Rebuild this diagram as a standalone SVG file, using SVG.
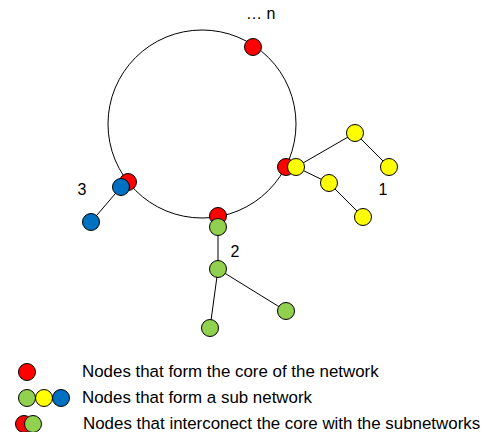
<svg xmlns="http://www.w3.org/2000/svg" width="484" height="432" viewBox="0 0 484 432">
<style>
.n{stroke:#000;stroke-width:1}
.r{fill:#FF0000}.y{fill:#FFFF00}.g{fill:#92D050}.b{fill:#0070C0}
.e{stroke:#000;stroke-width:1;fill:none}
text{font-family:"Liberation Sans",Arial,sans-serif;fill:#000}
.lbl{font-size:16px}
.leg{font-size:16.9px}
</style>
<rect width="484" height="432" fill="#fff"/>
<g id="connectors">
<circle class="e" cx="202" cy="124" r="94"/>
<line class="e" x1="296" y1="167" x2="355" y2="133"/>
<line class="e" x1="355" y1="133" x2="389" y2="167"/>
<line class="e" x1="296" y1="167" x2="329" y2="183"/>
<line class="e" x1="329" y1="183" x2="363" y2="217"/>
<line class="e" x1="121" y1="187" x2="91" y2="222"/>
<line class="e" x1="218" y1="227" x2="218" y2="269"/>
<line class="e" x1="218" y1="269" x2="210" y2="328"/>
<line class="e" x1="218" y1="269" x2="286" y2="311"/>
</g>
<g id="core-top"><circle class="n r" cx="253" cy="47" r="8.5"/></g>
<g id="core-right"><circle class="n r" cx="286" cy="167" r="8.5"/></g>
<g id="core-left"><circle class="n r" cx="128" cy="182" r="8.5"/></g>
<g id="core-bottom"><circle class="n r" cx="218" cy="216" r="8.5"/></g>
<g id="y1"><circle class="n y" cx="296" cy="167" r="8.5"/></g>
<g id="y2"><circle class="n y" cx="355" cy="133" r="8.5"/></g>
<g id="y3"><circle class="n y" cx="389" cy="167" r="8.5"/></g>
<g id="y4"><circle class="n y" cx="329" cy="183" r="8.5"/></g>
<g id="y5"><circle class="n y" cx="363" cy="217" r="8.5"/></g>
<g id="b1"><circle class="n b" cx="121" cy="187" r="8.5"/></g>
<g id="b2"><circle class="n b" cx="91" cy="222" r="8.5"/></g>
<g id="g1"><circle class="n g" cx="218" cy="227" r="8.5"/></g>
<g id="g2"><circle class="n g" cx="218" cy="269" r="8.5"/></g>
<g id="g3"><circle class="n g" cx="210" cy="328" r="8.5"/></g>
<g id="g4"><circle class="n g" cx="286" cy="311" r="8.5"/></g>
<g id="labels">
<text class="lbl" x="246" y="19">… n</text>
<text class="lbl" x="383" y="195" text-anchor="middle">1</text>
<text class="lbl" x="235" y="257" text-anchor="middle">2</text>
<text class="lbl" x="82" y="195" text-anchor="middle">3</text>
</g>
<g id="legend">
<circle class="n r" cx="27" cy="372" r="8.5"/>
<text class="leg" x="82" y="377">Nodes that form the core of the network</text>
<circle class="n g" cx="27" cy="398" r="8.5"/>
<circle class="n y" cx="44" cy="398" r="8.5"/>
<circle class="n b" cx="61" cy="398" r="8.5"/>
<text class="leg" x="82" y="403">Nodes that form a sub network</text>
<circle class="n r" cx="24" cy="424" r="8.5"/>
<circle class="n g" cx="33" cy="424" r="8.5"/>
<text class="leg" x="83" y="429">Nodes that interconect the core with the subnetworks</text>
</g>
</svg>
